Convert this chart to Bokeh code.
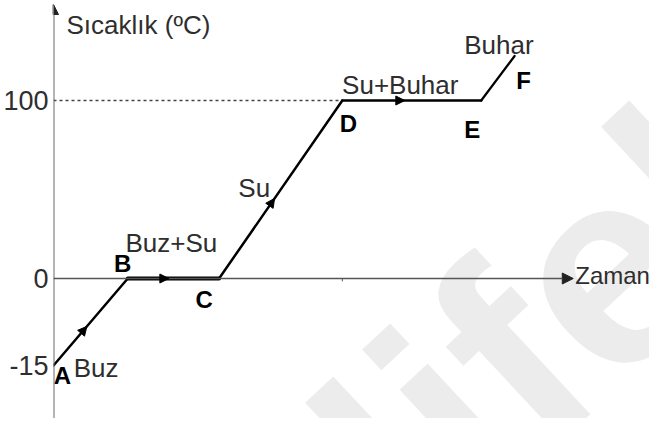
from bokeh.plotting import figure
from bokeh.models import Range1d, FixedTicker, Arrow, NormalHead, Label, ColumnDataSource
from bokeh.embed import file_html
from bokeh.resources import INLINE
from bokeh.core.properties import value

# ---- data -------------------------------------------------------------
points = ["A", "B", "C", "D", "E", "F"]
time = [0, 10, 22.3, 38.9, 57.6, 62.1]          # arbitrary time units
temp = [-15, 0, 0, 100, 100, 125]               # °C
phases = ["Buz", "Buz+Su", "Su", "Su+Buhar", "Buhar"]
y_ticks = [-15, 0, 100]
x_label = "Zaman"
y_label = "Sıcaklık (ºC)"

# ---- schematic layout -------------------------------------------------
NEG = 3.26  # the drawing stretches the sub-zero part of the axis


def disp(t):
    return t if t >= 0 else t * NEG


ys = [disp(t) for t in temp]

W, H = 649, 418
LEFT = 47
PX = 7.5
PY = 1.78
ZERO_Y = 278
FONT = "Liberation Sans"
TXT = "#2e2e2e"

p = figure(width=W, height=H,
           x_range=Range1d(0, (W - LEFT) / PX),
           y_range=Range1d(-(H - ZERO_Y) / PY, ZERO_Y / PY),
           output_backend="svg", toolbar_location=None,
           x_axis_location=None,
           min_border_left=LEFT, min_border_right=0,
           min_border_top=0, min_border_bottom=0,
           outline_line_color=None, background_fill_color="white",
           border_fill_color="white")
p.grid.visible = False

ya = p.yaxis[0]
tick_vals = [float(disp(t)) for t in y_ticks]
ya.ticker = FixedTicker(ticks=tick_vals)
ya.major_label_overrides = {v: str(t) for v, t in zip(tick_vals, y_ticks)}
ya.axis_line_color = None
ya.major_tick_line_color = None
ya.minor_tick_line_color = None
ya.major_tick_out = 0
ya.major_tick_in = 0
ya.major_label_standoff = 5
ya.major_label_text_font = FONT
ya.major_label_text_font_size = "27px"
ya.major_label_text_color = TXT

# faint watermark
p.add_layout(Label(x=416, y=-189, x_units="screen", y_units="screen",
                   text="lifel", angle=43, angle_units="deg",
                   text_font="Liberation Sans", text_font_style="bold",
                   text_font_size="280px", text_color="#ececec",
                   level="underlay"))

# axes with arrowheads
p.add_layout(Arrow(x_start=0, y_start=p.y_range.start, x_end=0,
                   y_end=(ZERO_Y - 4) / PY,
                   line_color="#6a6a6a", line_width=2,
                   end=NormalHead(size=10, fill_color="#222", line_color="#222")))
p.add_layout(Arrow(x_start=0, y_start=0, x_end=70, y_end=0,
                   line_color="#555", line_width=1.5,
                   end=NormalHead(size=11, fill_color="#222", line_color="#222")))
# small time mark under D
p.segment(x0=[time[3]], y0=[0], x1=[time[3]], y1=[-1.6],
          line_color="#555", line_width=1)

# dotted guide at 100
p.line([0, time[3]], [temp[3], temp[3]], line_color="#444",
       line_width=1.5, line_dash="3 3")

# heating curve
seg = ColumnDataSource(dict(x0=time[:-1], y0=ys[:-1], x1=time[1:], y1=ys[1:],
                            w=[2.5, 4, 2.5, 2.5, 2.2]))
p.segment("x0", "y0", "x1", "y1", source=seg, line_color="black",
          line_width="w", line_cap="round")

# direction arrows along the first four segments
f = 0.45
for i in range(4):
    x0, y0, x1, y1 = time[i], ys[i], time[i + 1], ys[i + 1]
    xt, yt = x0 + f * (x1 - x0), y0 + f * (y1 - y0)
    xs, ys_ = x0 + (f - 0.02) * (x1 - x0), y0 + (f - 0.02) * (y1 - y0)
    p.add_layout(Arrow(x_start=xs, y_start=ys_, x_end=xt, y_end=yt,
                       line_alpha=0,
                       end=NormalHead(size=9, fill_color="black",
                                      line_color="black")))

# point letters
p.text(x=time, y=ys, text=points,
       x_offset=[9, -5, -15, 6, -9, 9], y_offset=[10, -15, 21, 23, 29, 24],
       text_align="center", text_baseline="middle",
       text_font=value(FONT), text_font_style="bold",
       text_font_size="24px", text_color="black")

# phase labels at segment midpoints
mx = [(time[i] + time[i + 1]) / 2 for i in range(5)]
my = [(ys[i] + ys[i + 1]) / 2 for i in range(5)]
p.text(x=mx, y=my, text=phases,
       x_offset=[5.5, -2, -26.5, -11.5, 1], y_offset=[45.5, -36, -2, -16, -33],
       text_align="center", text_baseline="alphabetic",
       text_font=value(FONT), text_font_size="26px", text_color=TXT)

# axis titles
p.text(x=[70], y=[0], text=[x_label], x_offset=2, y_offset=-3,
       text_align="left", text_baseline="alphabetic",
       text_font=value(FONT), text_font_size="24px", text_color=TXT)
p.text(x=[0], y=[(ZERO_Y - 4) / PY], text=[y_label], x_offset=13, y_offset=20,
       text_align="left", text_baseline="alphabetic",
       text_font=value(FONT), text_font_size="26px", text_color=TXT)

open("out.html", "w").write(file_html(p, INLINE))
